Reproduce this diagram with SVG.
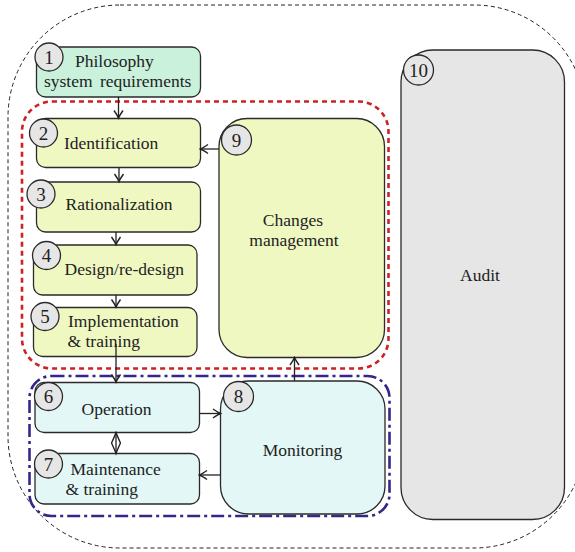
<svg xmlns="http://www.w3.org/2000/svg" width="575" height="552" viewBox="0 0 575 552">
<defs>
<style>
.box{stroke:#2a2a2a;stroke-width:1.3}
.y{fill:#f0f8c2}
.m{fill:#c9f1dc}
.c{fill:#e3f8f6}
.g{fill:#e6e6e6}
.num{fill:#e6e6e6;stroke:#2a2a2a;stroke-width:1.3}
text{font-family:"Liberation Serif","Times New Roman",serif;font-size:17.5px;fill:#222}
.n{font-size:19px;text-anchor:middle}
.mid{text-anchor:middle}
.conn{stroke:#222;stroke-width:1.3;fill:none}
</style>
<marker id="arr" viewBox="-10 -6 12 12" markerWidth="12" markerHeight="12" refX="0" refY="0" orient="auto-start-reverse" markerUnits="userSpaceOnUse">
<path d="M-7.5,-4.5 Q-2.5,-1 0,0 Q-2.5,1 -7.5,4.5" fill="none" stroke="#222" stroke-width="1.4"/>
</marker>
<marker id="dia" viewBox="-12 -6 14 12" markerWidth="14" markerHeight="12" refX="0" refY="0" orient="auto-start-reverse" markerUnits="userSpaceOnUse">
<path d="M-10.5,-4.5 Q-3,-1 0,0 Q-3,1 -10.5,4.5" fill="none" stroke="#222" stroke-width="1.4"/>
</marker>
</defs>
<rect x="8" y="5" width="578" height="543" rx="112" ry="112" fill="none" stroke="#222" stroke-width="1" stroke-dasharray="4,3"/>
<rect x="22" y="101.5" width="366.5" height="267" rx="30" ry="30" fill="none" stroke="#cc2222" stroke-width="2.6" stroke-dasharray="5,4"/>
<rect x="29.5" y="376" width="360" height="140" rx="22" ry="22" fill="none" stroke="#33288a" stroke-width="2.6" stroke-dasharray="13,4,3,4"/>
<g id="node10">
<rect class="box g" x="401" y="50" width="163.5" height="469.5" rx="32" ry="32"/>
<text class="mid" x="480" y="281">Audit</text>
<circle class="num" cx="418.5" cy="70" r="15"/><text class="n" x="418.5" y="76.5">10</text>
</g>
<g id="node1">
<rect class="box m" x="36.5" y="47" width="164" height="50" rx="9" ry="9"/>
<text x="75" y="66.5">Philosophy</text>
<text x="44" y="87" word-spacing="3">system requirements</text>
<circle class="num" cx="49" cy="57" r="14"/><text class="n" x="49" y="63.5">1</text>
</g>
<g id="node2">
<rect class="box y" x="36.5" y="118.5" width="164" height="49" rx="9" ry="9"/>
<text x="64" y="148.5">Identification</text>
<circle class="num" cx="43.5" cy="133" r="14"/><text class="n" x="43.5" y="139.5">2</text>
</g>
<g id="node3">
<rect class="box y" x="36.5" y="182" width="164" height="50" rx="9" ry="9"/>
<text x="65.5" y="210">Rationalization</text>
<circle class="num" cx="41" cy="194" r="14"/><text class="n" x="41" y="200.5">3</text>
</g>
<g id="node4">
<rect class="box y" x="33.5" y="245" width="163.5" height="50" rx="9" ry="9"/>
<text x="64.5" y="274.5">Design/re-design</text>
<circle class="num" cx="46.5" cy="255.5" r="14"/><text class="n" x="46.5" y="262">4</text>
</g>
<g id="node5">
<rect class="box y" x="33.5" y="307.5" width="163.5" height="49" rx="9" ry="9"/>
<text x="68" y="327">Implementation</text>
<text x="67.5" y="346.5">&amp; training</text>
<circle class="num" cx="45" cy="316.5" r="14"/><text class="n" x="45" y="323">5</text>
</g>
<g id="node6">
<rect class="box c" x="35" y="382.5" width="164.5" height="50" rx="9" ry="9"/>
<text x="81.5" y="414.5">Operation</text>
<circle class="num" cx="48.5" cy="396.5" r="14"/><text class="n" x="48.5" y="403">6</text>
</g>
<g id="node7">
<rect class="box c" x="35" y="453.5" width="164.5" height="50.5" rx="9" ry="9"/>
<text x="70.5" y="474.5">Maintenance</text>
<text x="65.5" y="494.5">&amp; training</text>
<circle class="num" cx="48.5" cy="464" r="14"/><text class="n" x="48.5" y="470.5">7</text>
</g>
<g id="node9">
<rect class="box y" x="219" y="118.5" width="165.5" height="239" rx="28" ry="28"/>
<text class="mid" x="293" y="226">Changes</text>
<text class="mid" x="294" y="246">management</text>
<circle class="num" cx="236.5" cy="140" r="15"/><text class="n" x="236.5" y="146.5">9</text>
</g>
<g id="node8">
<rect class="box c" x="220.5" y="381" width="164.5" height="133" rx="28" ry="28"/>
<text class="mid" x="302.5" y="456">Monitoring</text>
<circle class="num" cx="238.5" cy="396.5" r="15"/><text class="n" x="238.5" y="403">8</text>
</g>
<g id="connectors">
<line class="conn" x1="118.5" y1="97" x2="118.5" y2="118" marker-end="url(#arr)"/>
<line class="conn" x1="119" y1="167.5" x2="119" y2="181.5" marker-end="url(#arr)"/>
<line class="conn" x1="116" y1="232" x2="116" y2="244.5" marker-end="url(#arr)"/>
<line class="conn" x1="116" y1="295" x2="116" y2="307" marker-end="url(#arr)"/>
<line class="conn" x1="116" y1="344" x2="116" y2="382" marker-end="url(#arr)"/>
<line class="conn" x1="116" y1="432.5" x2="116" y2="453.5" marker-start="url(#dia)" marker-end="url(#dia)"/>
<line class="conn" x1="219" y1="149" x2="200.5" y2="149" marker-end="url(#arr)"/>
<line class="conn" x1="199.5" y1="413.5" x2="220.5" y2="413.5" marker-end="url(#arr)"/>
<line class="conn" x1="220.5" y1="475" x2="199.5" y2="475" marker-end="url(#arr)"/>
<line class="conn" x1="294.5" y1="381" x2="294.5" y2="357.5" marker-end="url(#arr)"/>
</g>
</svg>
